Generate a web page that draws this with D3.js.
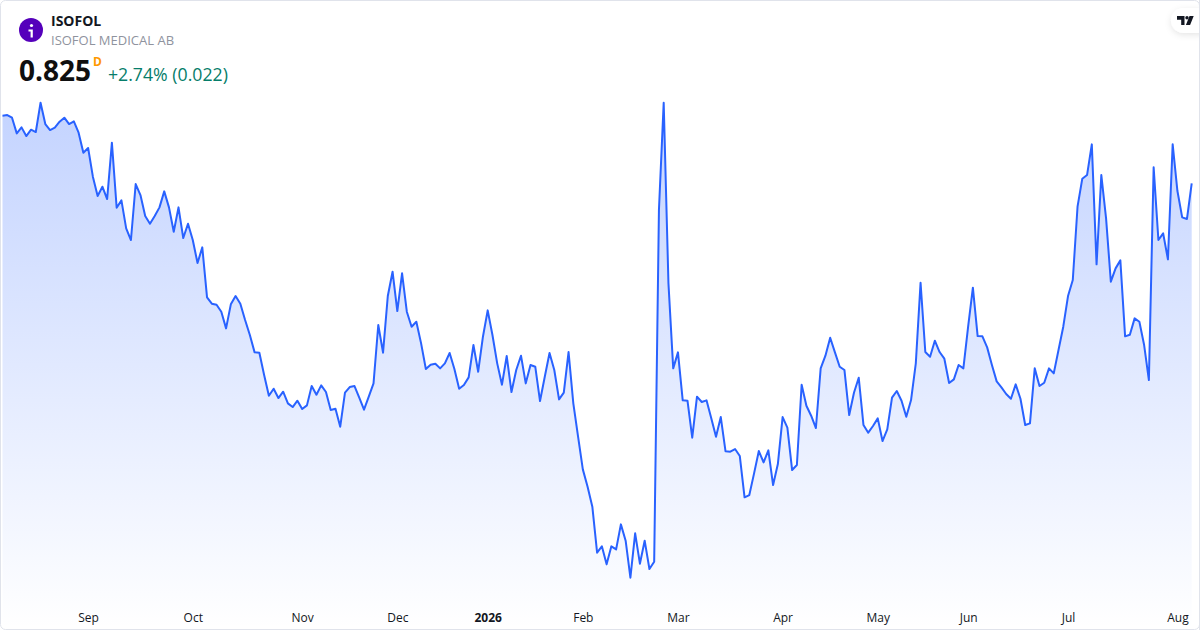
<!DOCTYPE html>
<html>
<head>
<meta charset="utf-8">
<script src="https://d3js.org/d3.v7.min.js"></script>
<style>
  html, body { margin: 0; padding: 0; background: #fff; }
  text { font-family: "Open Sans", sans-serif; }
  .domain { display: none; }
  .tick line { display: none; }
</style>
</head>
<body>
<script>
var symbol = "ISOFOL";
var companyName = "ISOFOL MEDICAL AB";
var lastPrice = "0.825";
var interval = "D";
var changeText = "+2.74% (0.022)";

// closing prices, one per session
var closes = [
  0.8656, 0.866, 0.8644, 0.855, 0.8586, 0.8534, 0.8572, 0.8558, 0.8734, 0.8606,
  0.857, 0.8584, 0.862, 0.8644, 0.8606, 0.8622, 0.8554, 0.8434, 0.8462, 0.829,
  0.8174, 0.823, 0.8156, 0.8494, 0.8104, 0.8148, 0.798, 0.791, 0.8246, 0.818,
  0.8054, 0.8008, 0.8054, 0.8106, 0.8202, 0.8106, 0.796, 0.8106, 0.7922, 0.8008,
  0.791, 0.7772, 0.7866, 0.7566, 0.7528, 0.7522, 0.748, 0.738, 0.7524, 0.7574,
  0.7528, 0.743, 0.734, 0.7236, 0.7234, 0.71, 0.6976, 0.7018, 0.6962, 0.7,
  0.693, 0.6908, 0.6946, 0.6896, 0.6918, 0.7034, 0.6982, 0.7038, 0.6998, 0.689,
  0.6898, 0.679, 0.6994, 0.7028, 0.7034, 0.6964, 0.6892, 0.697, 0.705, 0.74,
  0.7234, 0.7574, 0.772, 0.7484, 0.771, 0.748, 0.739, 0.742, 0.729, 0.7136,
  0.7162, 0.7168, 0.714, 0.717, 0.7232, 0.7136, 0.7018, 0.704, 0.7086, 0.728,
  0.712, 0.733, 0.7488, 0.734, 0.717, 0.7042, 0.7214, 0.6998, 0.713, 0.7216,
  0.705, 0.716, 0.715, 0.6944, 0.709, 0.7232, 0.713, 0.6954, 0.6994, 0.7238,
  0.693, 0.673, 0.6534, 0.643, 0.631, 0.6034, 0.6072, 0.5964, 0.6072, 0.6054,
  0.6204, 0.6106, 0.5884, 0.615, 0.5968, 0.6106, 0.5936, 0.598, 0.809, 0.8734,
  0.765, 0.714, 0.7236, 0.6948, 0.6946, 0.6724, 0.697, 0.6938, 0.6948, 0.684,
  0.673, 0.6848, 0.6642, 0.664, 0.6656, 0.6614, 0.6366, 0.638, 0.651, 0.6644,
  0.6576, 0.6648, 0.644, 0.6566, 0.6848, 0.6784, 0.653, 0.656, 0.7042, 0.6916,
  0.6856, 0.6782, 0.714, 0.7216, 0.7324, 0.7236, 0.715, 0.713, 0.686, 0.6994,
  0.7084, 0.68, 0.6754, 0.6794, 0.684, 0.6704, 0.6774, 0.6964, 0.7004, 0.6946,
  0.685, 0.695, 0.717, 0.7654, 0.7238, 0.721, 0.7306, 0.7238, 0.7198, 0.7052,
  0.7074, 0.716, 0.714, 0.739, 0.7624, 0.7334, 0.7332, 0.7266, 0.716, 0.7062,
  0.7026, 0.6986, 0.6958, 0.7044, 0.6958, 0.68, 0.681, 0.714, 0.7034, 0.7054,
  0.714, 0.711, 0.725, 0.739, 0.7574, 0.767, 0.811, 0.8278, 0.83, 0.8484,
  0.7764, 0.83, 0.804, 0.766, 0.774, 0.7788, 0.7332, 0.7342, 0.744, 0.742,
  0.728, 0.707, 0.8346, 0.791, 0.795, 0.7794, 0.8484, 0.8204, 0.8046, 0.8036,
  0.825
];

// session index where each time label sits
var tickIndex = [18, 40, 63, 83, 102, 122, 142, 164, 184, 203, 224, 247];
var tickLabels = ["Sep", "Oct", "Nov", "Dec", "2026", "Feb", "Mar", "Apr", "May", "Jun", "Jul", "Aug"];

var width = 1200;
var height = 630;

var svg = d3.select("body").append("svg")
  .attr("width", width)
  .attr("height", height)
  .style("display", "block");

var defs = svg.append("defs");

var grad = defs.append("linearGradient")
  .attr("id", "areaFill")
  .attr("gradientUnits", "userSpaceOnUse")
  .attr("x1", 0).attr("x2", 0)
  .attr("y1", 102).attr("y2", 629);
grad.append("stop").attr("offset", 0).attr("stop-color", "#2962ff").attr("stop-opacity", 0.28);
grad.append("stop").attr("offset", 1).attr("stop-color", "#2962ff").attr("stop-opacity", 0);

var shadow = defs.append("filter")
  .attr("id", "logoShadow")
  .attr("x", "-30%").attr("y", "-40%")
  .attr("width", "160%").attr("height", "200%");
shadow.append("feDropShadow")
  .attr("dx", 0).attr("dy", 2).attr("stdDeviation", 3)
  .attr("flood-color", "#000").attr("flood-opacity", 0.1);

var x = d3.scaleLinear().domain([0, closes.length - 1]).range([2.5, 1191.7]);
var y = d3.scaleLinear().domain(d3.extent(closes)).range([577.7, 102.7]);

var line = d3.line()
  .x(function (d, i) { return x(i); })
  .y(function (d) { return y(d); });

var area = d3.area()
  .x(function (d, i) { return x(i); })
  .y0(629)
  .y1(function (d) { return y(d); });

svg.append("path").datum(closes)
  .attr("d", area)
  .attr("fill", "url(#areaFill)");

svg.append("path").datum(closes)
  .attr("d", line)
  .attr("fill", "none")
  .attr("stroke", "#2962ff")
  .attr("stroke-width", 2)
  .attr("stroke-linejoin", "round");

// time axis, labels only
var axis = d3.axisBottom(x)
  .tickValues(tickIndex)
  .tickSize(0)
  .tickPadding(0)
  .tickFormat(function (d, i) { return tickLabels[i]; });

var axisG = svg.append("g")
  .attr("transform", "translate(0,618)")
  .call(axis);

axisG.selectAll("text")
  .attr("y", 0)
  .attr("dy", "0.32em")
  .style("font-size", "12px")
  .style("font-family", '"Open Sans", sans-serif')
  .style("fill", "#131722")
  .style("font-weight", function (d, i) { return tickLabels[i] === "2026" ? 700 : 400; });

// card border
svg.append("rect")
  .attr("x", 0.5).attr("y", 0.5)
  .attr("width", width - 1).attr("height", height - 1)
  .attr("rx", 5)
  .attr("fill", "none")
  .attr("stroke", "#e0e3eb");

// header
svg.append("circle")
  .attr("cx", 31).attr("cy", 30).attr("r", 12)
  .attr("fill", "#5500bb");
svg.append("circle")
  .attr("cx", 31.5).attr("cy", 25.5).attr("r", 1.6)
  .attr("fill", "#fff");
svg.append("path")
  .attr("d", "M28.5 29.5h4.3v8h-2.2v-6h-2.1z")
  .attr("fill", "#fff");

svg.append("text")
  .attr("x", 51).attr("y", 26)
  .attr("font-size", 14).attr("font-weight", 700)
  .attr("fill", "#131722")
  .text(symbol);

svg.append("text")
  .attr("x", 51).attr("y", 45)
  .attr("font-size", 13)
  .attr("fill", "#8f939e")
  .text(companyName);

svg.append("text")
  .attr("x", 19).attr("y", 81)
  .attr("font-size", 28).attr("font-weight", 700)
  .attr("fill", "#0f0f0f")
  .text(lastPrice);

svg.append("text")
  .attr("x", 93).attr("y", 66)
  .attr("font-size", 12).attr("font-weight", 700)
  .attr("fill", "#ff9800")
  .text(interval);

svg.append("text")
  .attr("x", 108).attr("y", 81)
  .attr("font-size", 17.7)
  .attr("fill", "#067d6a")
  .text(changeText);

// tradingview badge
svg.append("rect")
  .attr("x", 1171).attr("y", 8)
  .attr("width", 40).attr("height", 25).attr("rx", 12.5)
  .attr("fill", "#fff")
  .attr("filter", "url(#logoShadow)");
svg.append("rect")
  .attr("x", 1199).attr("y", 0).attr("width", 1).attr("height", 630)
  .attr("fill", "#e0e3eb");
svg.append("path")
  .attr("d", "M1177 16h7.5v9h-3.3v-5.3h-4.2z M1189.5 16h4.2l-3.6 9h-4.2z")
  .attr("fill", "#131722");
svg.append("circle")
  .attr("cx", 1187).attr("cy", 17.8).attr("r", 1.7)
  .attr("fill", "#131722");
</script>
</body>
</html>
